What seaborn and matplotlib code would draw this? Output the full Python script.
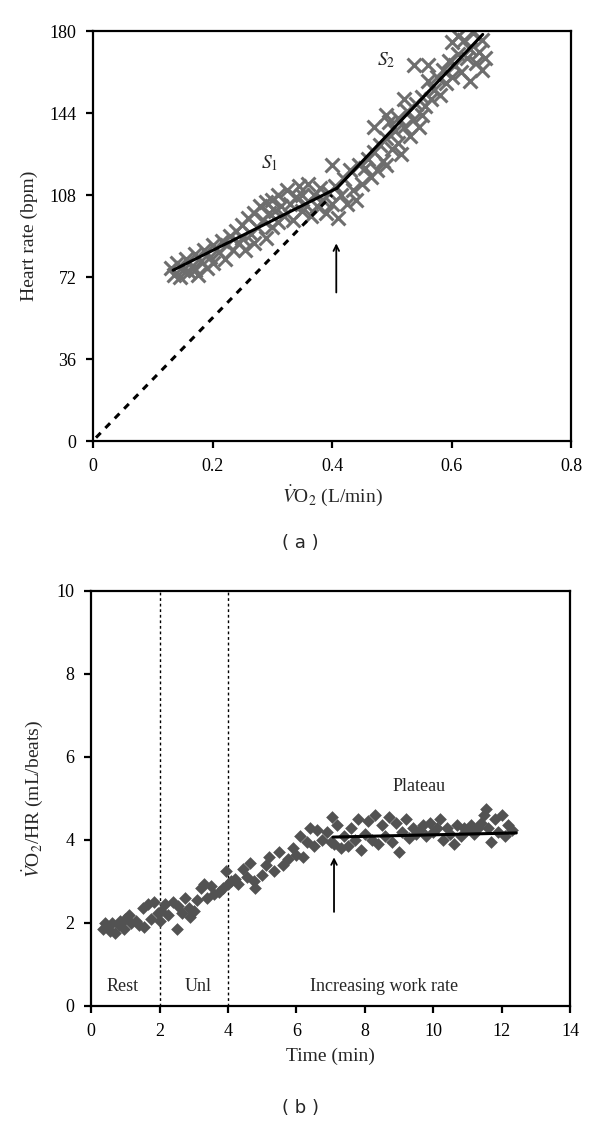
import numpy as np
import pandas as pd
import matplotlib
matplotlib.use("Agg")
import matplotlib.pyplot as plt
import seaborn as sns

# --- (a) heart rate vs VO2 ---
vo2 = [0.13, 0.135, 0.14, 0.145, 0.15, 0.155, 0.16, 0.165, 0.17, 0.17, 0.175, 0.18, 0.185, 0.19,
       0.195, 0.2, 0.2, 0.21, 0.215, 0.22, 0.225, 0.23, 0.235, 0.24, 0.245, 0.25, 0.25, 0.255,
       0.26, 0.265, 0.27, 0.27, 0.275, 0.28, 0.285, 0.29, 0.29, 0.295, 0.3, 0.3, 0.305, 0.31,
       0.31, 0.315, 0.32, 0.325, 0.33, 0.335, 0.34, 0.345, 0.35, 0.35, 0.355, 0.36, 0.365, 0.37,
       0.375, 0.38, 0.385, 0.39, 0.395, 0.4, 0.4, 0.405, 0.41, 0.415, 0.42, 0.425, 0.43, 0.435,
       0.44, 0.445, 0.45, 0.455, 0.46, 0.465, 0.47, 0.47, 0.475, 0.48, 0.485, 0.49, 0.49, 0.49,
       0.495, 0.5, 0.505, 0.51, 0.51, 0.515, 0.52, 0.52, 0.525, 0.53, 0.535, 0.537, 0.54, 0.545,
       0.55, 0.55, 0.555, 0.56, 0.56, 0.565, 0.57, 0.575, 0.58, 0.585, 0.59, 0.595, 0.6, 0.6,
       0.605, 0.61, 0.61, 0.615, 0.62, 0.625, 0.63, 0.63, 0.635, 0.64, 0.645, 0.65, 0.65, 0.655]
heart_rate = [76, 73, 78, 72, 75, 80, 74, 77, 82, 75, 73, 79, 84, 76,
              81, 86, 78, 83, 88, 80, 86, 90, 84, 92, 87, 95, 89, 84,
              98, 91, 100, 87, 94, 103, 97, 89, 105, 100, 94, 106, 101, 96,
              108, 103, 99, 110, 104, 97, 107, 112, 101, 108, 104, 113, 99, 108,
              103, 111, 106, 100, 109, 104, 121, 112, 98, 108, 115, 104, 119, 110,
              106, 121, 113, 120, 124, 116, 127, 138, 119, 130, 123, 133, 121, 143,
              140, 128, 136, 142, 131, 126, 138, 150, 145, 134, 141, 165, 148, 138,
              151, 143, 147, 158, 165, 150, 154, 160, 152, 163, 157, 167, 160, 175,
              165, 178, 170, 162, 176, 168, 158, 172, 179, 166, 171, 163, 176, 168]

s1_x, s1_y = [0.134, 0.408], [75, 111]
s2_x, s2_y = [0.408, 0.652], [111, 178.5]
dash_x, dash_y = [0.005, 0.4], [1.5, 108]

# --- (b) VO2/HR vs time ---
time_min = [0.35, 0.4, 0.45, 0.55, 0.6, 0.7, 0.8, 0.85, 0.95, 1.0, 1.1, 1.15, 1.3, 1.4, 1.5,
            1.55, 1.65, 1.75, 1.85, 1.95, 2.0, 2.05, 2.15, 2.25, 2.4, 2.5, 2.55, 2.65, 2.75,
            2.85, 2.9, 3.0, 3.1, 3.2, 3.3, 3.4, 3.5, 3.6, 3.75, 3.85, 3.95, 4.0, 4.1, 4.2, 4.3,
            4.45, 4.55, 4.65, 4.75, 4.8, 5.0, 5.1, 5.2, 5.35, 5.5, 5.6, 5.75, 5.9, 6.0, 6.1,
            6.2, 6.3, 6.4, 6.5, 6.6, 6.75, 6.9, 7.0, 7.05, 7.1, 7.2, 7.3, 7.4, 7.5, 7.6, 7.7,
            7.8, 7.9, 8.0, 8.1, 8.2, 8.3, 8.4, 8.5, 8.6, 8.7, 8.8, 8.9, 9.0, 9.1, 9.2, 9.3,
            9.4, 9.5, 9.6, 9.7, 9.8, 9.9, 10.0, 10.1, 10.2, 10.3, 10.4, 10.5, 10.6, 10.7, 10.8,
            10.9, 11.0, 11.1, 11.2, 11.3, 11.4, 11.5, 11.55, 11.6, 11.7, 11.8, 11.9, 12.0,
            12.1, 12.2, 12.3]
o2_pulse = [1.85, 2.0, 1.9, 1.8, 2.0, 1.75, 1.95, 2.05, 1.85, 2.1, 2.2, 2.0, 2.05, 1.95, 2.35,
            1.9, 2.45, 2.1, 2.5, 2.25, 2.05, 2.3, 2.45, 2.2, 2.5, 1.85, 2.4, 2.25, 2.6,
            2.35, 2.15, 2.3, 2.55, 2.85, 2.95, 2.6, 2.9, 2.7, 2.75, 2.85, 3.25, 2.95, 3.0, 3.05, 2.95,
            3.3, 3.1, 3.45, 3.0, 2.85, 3.15, 3.4, 3.6, 3.25, 3.7, 3.4, 3.55, 3.8, 3.65, 4.1,
            3.6, 3.95, 4.3, 3.85, 4.25, 4.0, 4.2, 3.95, 4.55, 3.9, 4.35, 3.8, 4.1, 3.85, 4.3, 4.0,
            4.5, 3.75, 4.15, 4.45, 4.0, 4.6, 3.9, 4.35, 4.1, 4.55, 3.95, 4.4, 3.7, 4.2, 4.5, 4.05,
            4.3, 4.15, 4.25, 4.35, 4.1, 4.4, 4.2, 4.3, 4.5, 4.0, 4.3, 4.15, 3.9, 4.35, 4.1,
            4.3, 4.25, 4.35, 4.15, 4.3, 4.4, 4.6, 4.75, 4.3, 3.95, 4.5, 4.2, 4.6,
            4.1, 4.35, 4.25]

plateau_x, plateau_y = [7.07, 12.43], [4.07, 4.17]
phase_bounds = [2, 4]

sns.set_style("white")
plt.rcParams['font.family'] = ['Liberation Serif', 'DejaVu Serif']
plt.rcParams['mathtext.fontset'] = 'stix'

fig = plt.figure(figsize=(6, 11.24), dpi=100)
ax1 = fig.add_axes([0.155, 0.6076, 0.797, 0.3648])
ax2 = fig.add_axes([0.152, 0.105, 0.798, 0.3692])

# panel a
sns.scatterplot(x=vo2, y=heart_rate, ax=ax1, marker='x', s=100, color='#6e6e6e',
                linewidth=2.2, zorder=2)
sns.lineplot(x=s1_x, y=s1_y, ax=ax1, color='black', lw=2.2, zorder=3)
sns.lineplot(x=s2_x, y=s2_y, ax=ax1, color='black', lw=2.2, zorder=3)
ax1.plot(dash_x, dash_y, color='black', lw=2.2, ls=(0, (2.2, 2.2)), zorder=3)
ax1.annotate('', xy=(0.407, 88), xytext=(0.407, 64),
             arrowprops=dict(arrowstyle='->', color='black', lw=1.3))
ax1.text(0.296, 122, r'$S_1$', fontsize=14, ha='center', va='center')
ax1.text(0.49, 167, r'$S_2$', fontsize=14, ha='center', va='center')
ax1.set_xlim(0, 0.8)
ax1.set_ylim(0, 180)
ax1.set_xticks([0, 0.2, 0.4, 0.6, 0.8])
ax1.set_xticklabels(['0', '0.2', '0.4', '0.6', '0.8'])
ax1.set_yticks([0, 36, 72, 108, 144, 180])
ax1.set_xlabel(r'$\dot{V}$O$_2$ (L/min)', fontsize=14, labelpad=6)
ax1.set_ylabel('Heart rate (bpm)', fontsize=14, labelpad=8)
fig.text(0.5, 0.517, '( a )', ha='center', va='center', fontsize=13, family='DejaVu Sans')

# panel b
sns.scatterplot(x=time_min, y=o2_pulse, ax=ax2, marker='D', s=42, color='#525252',
                edgecolor='#525252', linewidth=0, zorder=2)
for b in phase_bounds:
    ax2.axvline(b, color='black', lw=1, ls=(0, (2, 2)), zorder=1)
sns.lineplot(x=plateau_x, y=plateau_y, ax=ax2, color='black', lw=2.2, zorder=3)
ax2.annotate('', xy=(7.1, 3.65), xytext=(7.1, 2.2),
             arrowprops=dict(arrowstyle='->', color='black', lw=1.3))
ax2.text(9.6, 5.28, 'Plateau', fontsize=13, ha='center', va='center')
ax2.text(0.92, 0.46, 'Rest', fontsize=13, ha='center', va='center')
ax2.text(3.12, 0.46, 'Unl', fontsize=13, ha='center', va='center')
ax2.text(8.57, 0.46, 'Increasing work rate', fontsize=13, ha='center', va='center')
ax2.set_xlim(0, 14)
ax2.set_ylim(0, 10)
ax2.set_xticks(range(0, 15, 2))
ax2.set_yticks(range(0, 11, 2))
ax2.set_xlabel('Time (min)', fontsize=14, labelpad=6)
ax2.set_ylabel(r'$\dot{V}$O$_2$/HR (mL/beats)', fontsize=14, labelpad=8)
fig.text(0.5, 0.0142, '( b )', ha='center', va='center', fontsize=13, family='DejaVu Sans')

for ax in (ax1, ax2):
    for sp in ax.spines.values():
        sp.set_visible(True)
        sp.set_color('black')
        sp.set_linewidth(1.6)
    ax.tick_params(axis='both', which='major', direction='out', length=5, width=1.6,
                   pad=7, labelsize=13, colors='black', left=True, bottom=True)
    ax.grid(False)

fig.savefig('out.png', dpi=100)
